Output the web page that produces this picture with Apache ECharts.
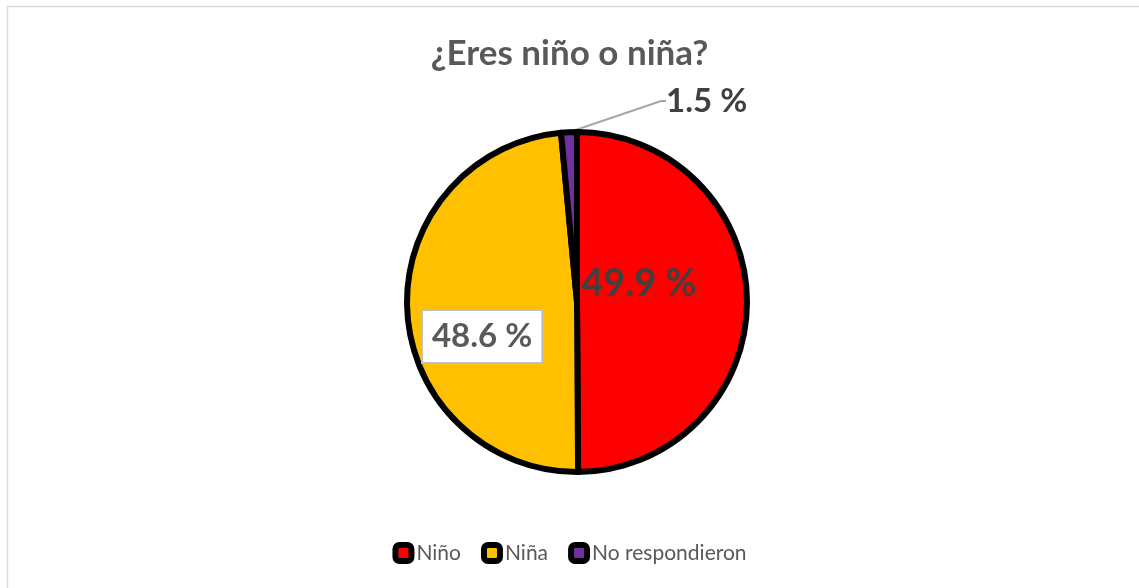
<!DOCTYPE html>
<html>
<head>
<meta charset="utf-8">
<script src="https://cdn.jsdelivr.net/npm/echarts@6/dist/echarts.min.js"></script>
<style>
html,body{margin:0;padding:0;background:#fff;}
#chart{width:1139px;height:588px;}
</style>
</head>
<body>
<div id="chart"></div>
<script>
const title = '¿Eres niño o niña?';
const categories = ['Niño', 'Niña', 'No respondieron'];
const values = [49.9, 48.6, 1.5];
const colors = ['#FF0000', '#FFC000', '#7030A0'];

const labelStyles = [
  { position: 'inside', fontSize: 38, color: '#404040', offset: [-26, -18] },
  { position: 'inside', fontSize: 33, color: '#595959', offset: [-7, 30],
    backgroundColor: '#ffffff', borderColor: '#bfbfbf', borderWidth: 2, padding: [10, 9, 8, 9] },
  { position: 'outside', fontSize: 33, color: '#404040' }
];

const chart = echarts.init(document.getElementById('chart'));
chart.setOption({
  backgroundColor: '#ffffff',
  animation: false,
  graphic: [{
    type: 'rect', shape: { x: 7.5, y: 6.5, width: 1200, height: 700 },
    style: { fill: 'none', stroke: '#d9d9d9', lineWidth: 1.5 }, silent: true, z: -1
  }],
  title: {
    text: title, left: 'center', top: 31,
    textStyle: { fontFamily: 'Lato', fontWeight: 'bold', fontSize: 35, color: '#595959' }
  },
  legend: {
    data: categories, bottom: 19, left: 'center',
    itemWidth: 16, itemHeight: 16, itemGap: 20, icon: 'roundRect',
    itemStyle: { borderColor: '#000', borderWidth: 6 },
    textStyle: { fontFamily: 'Lato', fontSize: 21, color: '#595959', padding: [0, 0, 0, 0] }
  },
  series: [{
    type: 'pie',
    center: [577, 302],
    radius: [0, 170],
    startAngle: 90,
    clockwise: true,
    avoidLabelOverlap: false,
    itemStyle: { borderColor: '#000', borderWidth: 6 },
    label: {
      fontFamily: 'Lato', fontWeight: 'bold',
      formatter: p => p.value.toFixed(1) + ' %'
    },
    labelLine: { show: true, length: 20, length2: 5, lineStyle: { color: '#a6a6a6', width: 2 } },
    labelLayout: function (params) {
      if (params.dataIndex === 2) {
        return { x: 666, y: 101, align: 'left', verticalAlign: 'middle' };
      }
      return {};
    },
    data: categories.map((c, i) => ({
      name: c, value: values[i],
      itemStyle: { color: colors[i] },
      label: labelStyles[i],
      labelLine: { show: i === 2 }
    }))
  }]
});
</script>
</body>
</html>
